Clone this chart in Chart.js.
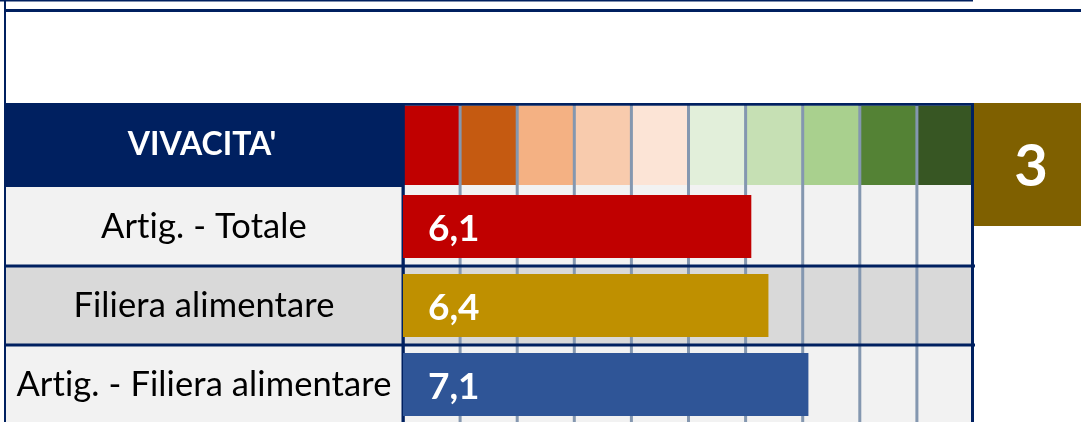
<!DOCTYPE html>
<html>
<head>
<meta charset="utf-8">
<script src="https://cdn.jsdelivr.net/npm/chart.js@4.4.1/dist/chart.umd.min.js"></script>
<style>
html,body{margin:0;padding:0;background:#ffffff;overflow:hidden}
#wrap{width:1081px;height:426px;position:relative}
</style>
</head>
<body>
<div id="wrap"><canvas id="c" width="1081" height="426"></canvas></div>
<script>
// ---- data ----
const categories = ['Artig. - Totale', 'Filiera alimentare', 'Artig. - Filiera alimentare'];
const values = [6.1, 6.4, 7.1];
const headerTitle = "VIVACITA'";
const rankLabel = '3';
const scaleMin = 0;
const scaleMax = 10;

// ---- styles ----
const barColors = ['#c00000', '#bf9000', '#2f5597'];
const rowFills = ['#f2f2f2', '#d9d9d9', '#f2f2f2'];
const bandColors = ['#c00000', '#c55a11', '#f4b183', '#f8cbad', '#fce4d6',
                    '#e2efda', '#c6e0b4', '#a9d08e', '#548235', '#375623'];
const NAVY = '#002060';
const GRID = '#8497b0';
const GOLD = '#7f6000';
const FONT = 'Lato, "Open Sans", sans-serif';

const fmt = v => v.toFixed(1).replace('.', ',');

const deco = {
  id: 'deco',
  beforeDraw(chart) {
    const ctx = chart.ctx;
    const a = chart.chartArea;
    const xs = chart.scales.x, ys = chart.scales.y;
    const W = chart.width, H = chart.height;
    const hTop = 103;
    const frameRight = a.right;
    ctx.save();
    ctx.fillStyle = '#ffffff';
    ctx.fillRect(0, 0, W, H);

    // rows backgrounds
    const half = (ys.getPixelForValue(1) - ys.getPixelForValue(0)) / 2;
    categories.forEach((c, i) => {
      const cy = ys.getPixelForValue(i);
      ctx.fillStyle = rowFills[i % rowFills.length];
      ctx.fillRect(6, cy - half, frameRight - 6, 2 * half);
    });

    // header left navy band
    ctx.fillStyle = NAVY;
    ctx.fillRect(5, hTop, a.left - 5, a.top - hTop);
    // header plot strip
    ctx.fillStyle = '#f2f2f2';
    ctx.fillRect(a.left, hTop, frameRight - a.left, a.top - hTop);
    bandColors.forEach((col, i) => {
      const x0 = xs.getPixelForValue(scaleMin + i);
      const x1 = xs.getPixelForValue(scaleMin + i + 1);
      ctx.fillStyle = col;
      ctx.fillRect(x0, hTop + 2.5, x1 - x0, 185 - hTop - 2.5);
    });

    // vertical grid lines (from the scale's ticks)
    ctx.fillStyle = GRID;
    xs.ticks.forEach(t => {
      if (t.value <= scaleMin || t.value >= scaleMax) return;
      const px = xs.getPixelForValue(t.value);
      ctx.fillRect(px - 1.5, hTop + 2, 3, H - hTop);
    });

    // row separators
    ctx.fillStyle = NAVY;
    for (let i = 0; i < categories.length - 1; i++) {
      const b = Math.round(ys.getPixelForValue(i) + half);
      ctx.fillRect(5, b - 1.5, frameRight + 1 - 5, 3);
    }

    // plot frame
    ctx.fillRect(a.left - 1.5, hTop, frameRight - a.left + 1.5, 2.7);
    ctx.fillRect(a.left - 1.5, hTop, 3.3, H - hTop);
    ctx.fillRect(frameRight - 3, hTop, 3, H - hTop);

    // page lines
    ctx.fillRect(0, 0, frameRight - 1, 1.5);
    ctx.fillRect(5, 9, W - 5, 3);
    ctx.fillRect(4, 0, 2, H);

    // gold rank box
    ctx.fillStyle = GOLD;
    ctx.fillRect(frameRight, hTop, W - frameRight, 226 - hTop);
    ctx.fillStyle = '#ffffff';
    ctx.textAlign = 'center';
    ctx.textBaseline = 'alphabetic';
    ctx.font = 'bold 58px ' + FONT;
    ctx.fillText(rankLabel, 1031, 185.7);

    // header title
    ctx.font = 'bold 32px ' + FONT;
    ctx.fillText(headerTitle, 202, 155);

    // category labels
    ctx.fillStyle = '#000000';
    ctx.font = '34.5px ' + FONT;
    if ('letterSpacing' in ctx) ctx.letterSpacing = '0.1px';
    categories.forEach((c, i) => {
      const cy = ys.getPixelForValue(i);
      ctx.fillText(c, 204, cy + 11.8);
    });
    ctx.restore();
  },
  afterDatasetsDraw(chart) {
    const ctx = chart.ctx;
    const meta = chart.getDatasetMeta(0);
    ctx.save();
    ctx.fillStyle = '#ffffff';
    ctx.font = 'bold 37px ' + FONT;
    ctx.textAlign = 'left';
    ctx.textBaseline = 'alphabetic';
    meta.data.forEach((bar, i) => {
      ctx.fillText(fmt(values[i]), bar.base + 25, bar.y + 14.3);
    });
    ctx.restore();
  }
};

new Chart(document.getElementById('c'), {
  type: 'bar',
  data: {
    labels: categories,
    datasets: [{
      data: values,
      backgroundColor: barColors,
      borderWidth: 0,
      barPercentage: 0.8,
      categoryPercentage: 1.0
    }]
  },
  options: {
    indexAxis: 'y',
    responsive: false,
    animation: false,
    devicePixelRatio: 1,
    layout: { padding: { left: 403, right: 107, top: 187, bottom: 2 } },
    plugins: { legend: { display: false }, tooltip: { enabled: false } },
    scales: {
      x: {
        min: scaleMin, max: scaleMax,
        display: true,
        ticks: { display: false, stepSize: 1 },
        grid: { display: false, drawTicks: false },
        border: { display: false }
      },
      y: {
        display: false
      }
    }
  },
  plugins: [deco]
});
</script>
</body>
</html>
